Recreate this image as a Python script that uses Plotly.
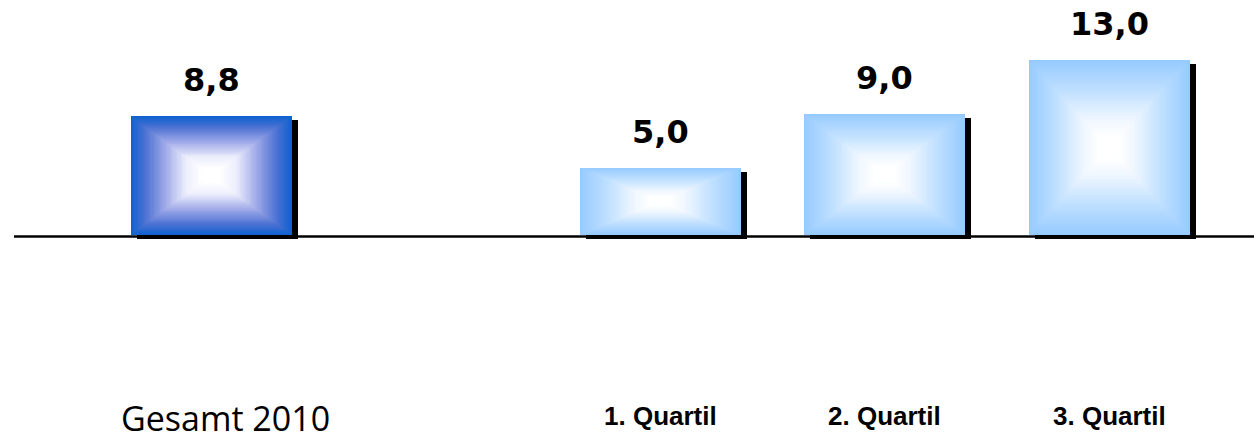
import numpy as np
import plotly.graph_objects as go

# Chart data
categories = ["Gesamt 2010", "1. Quartil", "2. Quartil", "3. Quartil"]
values = [8.8, 5.0, 9.0, 13.0]
value_labels = ["8,8", "5,0", "9,0", "13,0"]
# Axis slots (an empty slot separates the total from the quartiles)
slot_order = ["Gesamt 2010", " ", "1. Quartil", "2. Quartil", "3. Quartil"]

W, H = 1254, 442
PX_PER_UNIT = 13.47          # vertical scale
BASE_PX = 235.0              # pixel row of value 0
SLOT_PX = 224.5              # pixel width of one category slot
FIRST_SLOT_PX = 211.0        # pixel centre of first slot
BAR_W = 161.0 / SLOT_PX      # bar width in category units

y_top = BASE_PX / PX_PER_UNIT
y_bot = -(H - BASE_PX) / PX_PER_UNIT
x_lo = -FIRST_SLOT_PX / SLOT_PX
x_hi = x_lo + W / SLOT_PX

# Edge -> centre colour stops of the rectangular "from centre" gradients
dark_stops = [(1.0, (16, 98, 208)), (0.82, (78, 114, 210)),
              (0.58, (158, 168, 232)), (0.32, (236, 238, 252)),
              (0.12, (255, 255, 255)), (0.0, (255, 255, 255))]
light_stops = [(1.0, (150, 202, 255)), (0.65, (192, 224, 255)),
               (0.32, (240, 247, 255)), (0.12, (255, 255, 255)),
               (0.0, (255, 255, 255))]
bar_style = ["dark", "light", "light", "light"]


def grad_color(stops, t):
    ts = [s[0] for s in stops][::-1]
    cs = np.array([s[1] for s in stops][::-1], dtype=float)
    rgb = [np.interp(t, ts, cs[:, k]) for k in range(3)]
    return "rgb(%d,%d,%d)" % tuple(int(round(c)) for c in rgb)


fig = go.Figure()

# Drop shadow behind each bar (shifted right and down)
sh_dx = 6.0 / SLOT_PX
sh_dy = 4.0 / PX_PER_UNIT
fig.add_trace(go.Bar(
    x=categories, y=[v for v in values], base=[-sh_dy] * len(values),
    width=BAR_W, offset=-BAR_W / 2 + sh_dx,
    marker=dict(color="black", line=dict(width=0)),
    hoverinfo="skip", showlegend=False,
))

# Gradient-filled bars: nested rectangles shrinking toward the centre
n_layers = 60
for t in np.linspace(1.0, 0.1, n_layers):
    cols = [grad_color(dark_stops if s == "dark" else light_stops, t) for s in bar_style]
    fig.add_trace(go.Bar(
        x=categories,
        y=[v * t for v in values],
        base=[v * (1 - t) / 2 for v in values],
        width=BAR_W * t,
        marker=dict(color=cols, line=dict(width=0)),
        hoverinfo="skip", showlegend=False,
    ))

# Baseline
fig.add_shape(type="line", xref="paper", yref="y",
              x0=14 / W, x1=1, y0=-0.11, y1=-0.11,
              line=dict(color="black", width=2.6))

# Value labels above bars
for c, v, lab in zip(categories, values, value_labels):
    fig.add_annotation(x=c, y=v, text="<b>%s</b>" % lab, showarrow=False,
                       yanchor="bottom", yshift=15,
                       font=dict(family="DejaVu Sans", size=32, color="black"))

# Category labels
for c in categories:
    if c == "Gesamt 2010":
        fig.add_annotation(x=c, y=-13.6, text=c, showarrow=False,
                           yanchor="middle", xshift=14,
                           font=dict(family="Open Sans", size=34, color="black"))
    else:
        fig.add_annotation(x=c, y=-13.45, text="<b>%s</b>" % c, showarrow=False,
                           yanchor="middle",
                           font=dict(family="Liberation Sans", size=26, color="black"))

fig.update_layout(
    width=W, height=H, margin=dict(l=0, r=0, t=0, b=0),
    paper_bgcolor="white", plot_bgcolor="white",
    barmode="overlay", bargap=0,
    xaxis=dict(type="category", categoryorder="array", categoryarray=slot_order,
               range=[x_lo, x_hi], showticklabels=False, showgrid=False,
               zeroline=False, showline=False, ticks=""),
    yaxis=dict(range=[y_bot, y_top], showticklabels=False, showgrid=False,
               zeroline=False, showline=False, ticks=""),
)

fig.write_html("out.html")
